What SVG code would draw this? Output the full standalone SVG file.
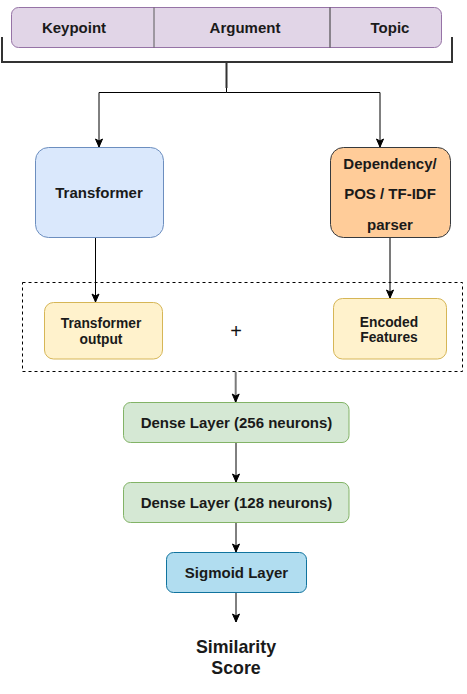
<svg xmlns="http://www.w3.org/2000/svg" width="467" height="694" viewBox="0 0 467 694">
<defs>
<marker id="arr" markerWidth="10" markerHeight="10" refX="9" refY="5" orient="auto" markerUnits="userSpaceOnUse" viewBox="0 0 10 10">
<path d="M1,1.5 L9,5 L1,8.5 L3,5 Z" fill="#000" stroke="#000" stroke-width="1"/>
</marker>
</defs>
<style>
text{font-family:"Liberation Sans",Arial,sans-serif;font-weight:bold;fill:#1a1a1a;text-anchor:middle;dominant-baseline:central}
.t14{font-size:15px}
.t13{font-size:13.8px}
.big{font-size:17.8px}
.plus{font-size:20px;font-weight:normal;fill:#111}
.c{fill:none;stroke:#000;stroke-width:1}
.g{fill:none;stroke:#7a7a7a;stroke-width:2}
</style>
<rect width="467" height="694" fill="#fff"/>
<g id="inputs">
<rect x="11.5" y="7.5" width="430" height="40" rx="7" fill="#e1d5e7" stroke="#9673a6"/>
<line x1="154" y1="7.5" x2="154" y2="47.5" stroke="#5a5a5a"/>
<line x1="330" y1="7.5" x2="330" y2="47.5" stroke="#333"/>
<text class="t14" x="74" y="27.5">Keypoint</text>
<text class="t14" x="245" y="27.5">Argument</text>
<text class="t14" x="390" y="27.5">Topic</text>
</g>
<g id="bracket">
<path d="M2,37 V62 H452 V37 M226.5,62 V88" fill="none" stroke="#333" stroke-width="2"/>
</g>
<g id="connectors">
<path class="c" d="M226.5,88 V92.5 H99 V147" marker-end="url(#arr)"/>
<path class="c" d="M226.5,92.5 H380 V147" marker-end="url(#arr)"/>
<path class="c" d="M95.5,237 V302" marker-end="url(#arr)"/>
<path class="g" d="M390,237 V298" marker-end="url(#arr)"/>
<path class="g" d="M235.7,372 V402" marker-end="url(#arr)"/>
<path class="c" d="M236,442.5 V482" marker-end="url(#arr)"/>
<path class="c" d="M236,522.5 V552" marker-end="url(#arr)"/>
<path class="c" d="M236,592.5 V622" marker-end="url(#arr)"/>
</g>
<g id="transformer">
<rect x="35.5" y="147.5" width="128" height="90" rx="13" fill="#dae8fc" stroke="#6c8ebf"/>
<text class="t14" x="99" y="192.5">Transformer</text>
</g>
<g id="parser">
<rect x="330.5" y="147.5" width="120" height="90" rx="13" fill="#ffcc99" stroke="#36393d"/>
<text class="t14" x="390" y="163">Dependency/</text>
<text class="t14" x="390" y="193">POS / TF-IDF</text>
<text class="t14" x="390" y="224.5">parser</text>
</g>
<g id="concat">
<rect x="22.5" y="282.5" width="440" height="89" fill="none" stroke="#000" stroke-dasharray="3,3"/>
<text class="plus" x="236" y="330.5">+</text>
</g>
<g id="transformer-output">
<rect x="44.5" y="302.5" width="118" height="56.5" rx="9" fill="#fff2cc" stroke="#d6b656"/>
<text class="t13" x="101" y="323">Transformer</text>
<text class="t13" x="101" y="339">output</text>
</g>
<g id="encoded-features">
<rect x="333.5" y="298.5" width="113" height="60.5" rx="9" fill="#fff2cc" stroke="#d6b656"/>
<text class="t13" x="389" y="322">Encoded</text>
<text class="t13" x="389" y="337.5">Features</text>
</g>
<g id="dense256">
<rect x="123.5" y="402.5" width="225.5" height="40" rx="7" fill="#d5e8d4" stroke="#82b366"/>
<text class="t14" x="236.5" y="422.5">Dense Layer (256 neurons)</text>
</g>
<g id="dense128">
<rect x="123.5" y="482.5" width="225.5" height="40" rx="7" fill="#d5e8d4" stroke="#82b366"/>
<text class="t14" x="236.5" y="502.5">Dense Layer (128 neurons)</text>
</g>
<g id="sigmoid">
<rect x="166.5" y="552.5" width="140" height="40" rx="7" fill="#b1ddf0" stroke="#10739e"/>
<text class="t14" x="236.5" y="572.5">Sigmoid Layer</text>
</g>
<g id="output">
<text class="big" x="236" y="647">Similarity</text>
<text class="big" x="236" y="667.5">Score</text>
</g>
</svg>
